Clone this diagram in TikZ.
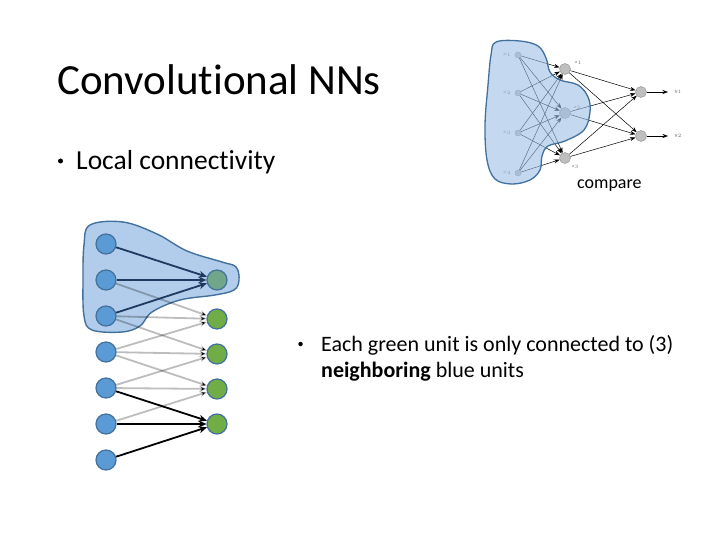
\documentclass[tikz,border=0pt]{standalone}
\usepackage{fontspec}
\setmainfont{Carlito}[Ligatures=NoCommon]
\usetikzlibrary{arrows.meta}
\definecolor{bfill}{HTML}{5B9BD5}
\definecolor{bdraw}{HTML}{41719C}
\definecolor{gfill}{HTML}{70AD47}
\definecolor{gblend}{HTML}{72A68A}
\definecolor{blobfill}{HTML}{B2CDEB}
\definecolor{blobdraw}{HTML}{41719C}
\definecolor{navy}{HTML}{1F3A60}
\definecolor{nfill}{HTML}{BFBFBF}
\definecolor{ndraw}{HTML}{8C8C8C}
\definecolor{tblob}{HTML}{9DBFE6}
\begin{document}
\begin{tikzpicture}[x=1pt,y=-1pt,
  bluenode/.style={circle,minimum size=20pt,inner sep=0pt,fill=bfill,draw=bdraw,line width=1.2pt},
  greennode/.style={circle,minimum size=20pt,inner sep=0pt,fill=gfill,draw=bdraw,line width=1.2pt},
  grayarrow/.style={draw=black,draw opacity=0.26,line width=1.8pt,-{Stealth[length=7pt,width=6pt]}},
  navyarrow/.style={draw=navy,line width=1.8pt,-{Stealth[length=8pt,width=7pt]}},
  blackarrow/.style={draw=black,line width=1.8pt,-{Stealth[length=8pt,width=7pt]}},
  innode/.style={circle,minimum size=6pt,inner sep=0pt,fill=nfill,draw=ndraw,line width=0.4pt},
  hidnode/.style={circle,minimum size=11pt,inner sep=0pt,fill=nfill,draw=ndraw,line width=0.4pt},
  netarrow/.style={draw=black,line width=0.5pt,-{Stealth[length=5.5pt,width=4pt]}},
  tinylabel/.style={font=\fontsize{4}{5}\selectfont,text=black!60,inner sep=0pt},
  bulletdot/.style={circle,fill=black,inner sep=0pt,minimum size=5pt},
  txt/.style={inner sep=0pt,anchor=base west}]
\useasboundingbox (0,0) rectangle (720,540);
\fill[white] (0,0) rectangle (720,540);

% texts
\node[txt,font=\fontsize{43}{50}\selectfont] (title) at (57,95) {Convolutional NNs};
\node[bulletdot] (bl1) at (60.5,161) {};
\node[txt,font=\fontsize{27.5}{33}\selectfont] (b1) at (76,170) {Local connectivity};
\node[txt,font=\fontsize{18}{22}\selectfont] (cmp) at (577,189) {compare};
\node[bulletdot,minimum size=4.5pt] (bl2) at (300.5,344) {};
\node[txt,font=\fontsize{22}{26}\selectfont] (e2) at (321,351) {Each green unit is only connected to (3)};
\node[txt,font=\fontsize{22}{26}\selectfont] (e3) at (321,377) {\textbf{neighboring} blue units};

% left blob (behind)
\draw[fill=blobfill,draw=blobdraw,line width=1.4pt] plot[smooth cycle,tension=0.6] coordinates
 {(90,225) (123,222) (157,234) (187,251) (222,262) (236,267) (239,280) (234,290) (215,295) (180,300) (152,312) (140,326) (122,332) (92,330) (84,316) (83,280) (84,245)};

% left nodes
\foreach \i/\y in {0/244,1/280,2/316,3/352,4/388,5/424,6/460}
  \node[bluenode] (b\i) at (106,\y) {};
\node[greennode,fill=gblend] (g0) at (217,280) {};
\foreach \i/\y in {1/319,2/354,3/389,4/424}
  \node[greennode] (g\i) at (217,\y) {};

% gray arrows
\foreach \g/\a/\b/\c in {1/1/2/3,2/2/3/4,3/3/4/5}{
  \draw[grayarrow] (b\a) -- (g\g);
  \draw[grayarrow] (b\b) -- (g\g);
  \draw[grayarrow] (b\c) -- (g\g);
}
\foreach \s in {0,1,2} \draw[navyarrow] (b\s) -- (g0);
\foreach \s in {4,5,6} \draw[blackarrow] (b\s) -- (g4);

% top-right network
\foreach \i/\y in {1/55,2/93,3/133,4/173}
  \node[innode] (x\i) at (518,\y) {};
\foreach \i/\y in {1/69,2/113,3/158}
  \node[hidnode] (z\i) at (565,\y) {};
\foreach \i/\y in {1/92,2/136}
  \node[hidnode] (y\i) at (641,\y) {};
\foreach \i in {1,2,3,4}
  \foreach \j in {1,2,3}
    \draw[netarrow] (x\i) -- (z\j);
\foreach \j in {1,2,3}
  \foreach \k in {1,2}
    \draw[netarrow] (z\j) -- (y\k);
\coordinate (o1) at (668,92);
\coordinate (o2) at (668,136);
\draw[netarrow] (y1) -- (o1);
\draw[netarrow] (y2) -- (o2);

\foreach \i/\y in {1/55,2/93,3/133,4/173}
  \node[tinylabel] (lx\i) at (507,\y) {$x_{\i}$};
\node[tinylabel] (lz1) at (578,63) {$z_1$};
\node[tinylabel] (lz2) at (577,108) {$z_2$};
\node[tinylabel] (lz3) at (575,167) {$z_3$};
\node[tinylabel] (ly1) at (678,92) {$y_1$};
\node[tinylabel] (ly2) at (678,136) {$y_2$};

% top-right blob (on top, translucent)
\draw[fill=tblob,fill opacity=0.6,draw=blobdraw,line width=1.3pt] plot[smooth cycle,tension=0.6] coordinates
 {(496,42) (520,41) (538,46) (546,58) (550,72) (560,80) (578,85) (588,97) (590,112) (584,130) (565,141) (548,146) (542,156) (540,170) (530,180) (512,184) (495,179) (487,160) (485,125) (488,85) (491,55)};
\end{tikzpicture}
\end{document}
